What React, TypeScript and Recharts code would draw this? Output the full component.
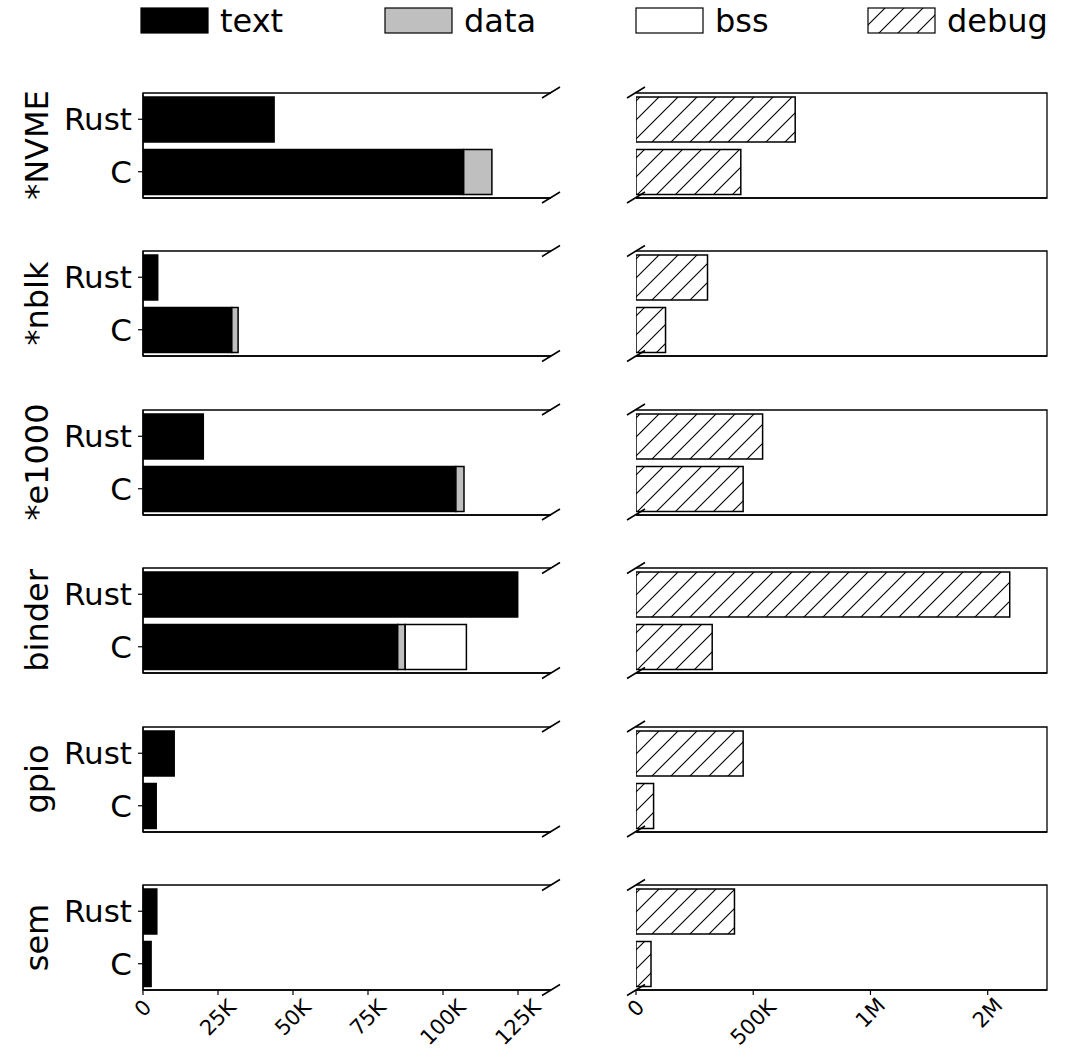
import { Bar, BarChart, ReferenceArea, XAxis, YAxis } from "recharts";

// sizes in bytes
const drivers = ["*NVME", "*nblk", "*e1000", "binder", "gpio", "sem"];
const langs = ["Rust", "C"];
const rustText = [43700, 4900, 20100, 124900, 10400, 4600];
const rustData = [0, 0, 0, 0, 0, 0];
const rustBss = [0, 0, 0, 0, 0, 0];
const cText = [106900, 29600, 104300, 84900, 4400, 2700];
const cData = [9400, 2100, 2700, 2500, 0, 0];
const cBss = [0, 0, 0, 20400, 0, 0];
const rustDebug = [679000, 305000, 540000, 1594000, 457000, 420000];
const cDebug = [447000, 126000, 457000, 325000, 75000, 64000];

const leftTicks = [0, 25000, 50000, 75000, 100000, 125000];
const leftTickLabels = ["0", "25K", "50K", "75K", "100K", "125K"];
const rightTicks = [0, 500000, 1000000, 1500000];
const rightTickLabels = ["0", "500K", "1M", "2M"];
const LEFT_MAX = 136000;
const RIGHT_MAX = 1753000;

const legendItems = [
  { name: "text", fill: "#000000" },
  { name: "data", fill: "#bfbfbf" },
  { name: "bss", fill: "#ffffff" },
  { name: "debug", fill: "url(#hatch-legend)" },
];

const FONT = "DejaVu Sans";
const ROW_TOP0 = 92.5;
const ROW_STEP = 158.5;
const PLOT_H = 105;
const PAD = 10;
const LEFT_X0 = 143;
const LEFT_X1 = 551;
const RIGHT_X0 = 636;
const RIGHT_X1 = 1047;
const FS_X = 21;

const rowTop = (i: number) => ROW_TOP0 + i * ROW_STEP;

function HatchDef({ id }: { id: string }) {
  return (
    <defs>
      <pattern id={id} patternUnits="userSpaceOnUse" width={19} height={19}>
        <rect width={19} height={19} fill="#fff" />
        <path d="M-5,5 L5,-5 M0,19 L19,0 M14,24 L24,14" stroke="#000" strokeWidth={1.1} />
      </pattern>
    </defs>
  );
}

function RotTick(props: any) {
  const { x, y, payload, labels, ticks } = props;
  const label = labels[ticks.indexOf(payload.value)] ?? "";
  const w = label.length * 0.63 * FS_X;
  const half = (w + FS_X * 0.75) / Math.SQRT2 / 2;
  const cy = y + half;
  return (
    <text
      x={x}
      y={cy}
      transform={`rotate(-45 ${x} ${cy})`}
      textAnchor="middle"
      dominantBaseline="central"
      fontSize={FS_X}
      fontFamily={FONT}
      fill="#000"
    >
      {label}
    </text>
  );
}

function LeftPanel({ i }: { i: number }) {
  const last = i === drivers.length - 1;
  const data = [
    { lang: langs[0], text: rustText[i], data: rustData[i], bss: rustBss[i] },
    { lang: langs[1], text: cText[i], data: cData[i], bss: cBss[i] },
  ];
  const axisH = last ? 60 : 10;
  const w = LEFT_X1 - LEFT_X0;
  return (
    <div style={{ position: "absolute", left: 0, top: rowTop(i) - PAD }}>
      <BarChart
        layout="vertical"
        width={LEFT_X1 + 20}
        height={PAD + PLOT_H + axisH}
        data={data}
        margin={{ top: PAD, right: 20, left: 0, bottom: 0 }}
        barCategoryGap={4}
      >
        <XAxis
          type="number"
          domain={[0, LEFT_MAX]}
          ticks={leftTicks}
          height={axisH}
          axisLine={{ stroke: "#000", strokeWidth: 1.3 }}
          tickLine={{ stroke: "#000", strokeWidth: 1.2 }}
          tickSize={5}
          tickMargin={3}
          tick={last ? <RotTick labels={leftTickLabels} ticks={leftTicks} /> : false}
          allowDataOverflow
        />
        <YAxis
          type="category"
          dataKey="lang"
          width={LEFT_X0}
          axisLine={{ stroke: "#000", strokeWidth: 1.3 }}
          tickLine={{ stroke: "#000", strokeWidth: 1.2 }}
          tickSize={5}
          tickMargin={6}
          tick={{ fill: "#000", fontSize: 31, fontFamily: FONT }}
        />
        {/* frame: top, bottom and left edges only (broken on the right) */}
        <ReferenceArea
          x1={0}
          x2={LEFT_MAX}
          fill="none"
          stroke="#000"
          strokeWidth={1.3}
          strokeDasharray={`${w} ${PLOT_H} ${w + PLOT_H}`}
        />
        <Bar dataKey="text" stackId="s" fill="#000" stroke="#000" strokeWidth={1.5} isAnimationActive={false} />
        <Bar dataKey="data" stackId="s" fill="#bfbfbf" stroke="#000" strokeWidth={1.5} isAnimationActive={false} />
        <Bar dataKey="bss" stackId="s" fill="#fff" stroke="#000" strokeWidth={1.5} isAnimationActive={false} />
      </BarChart>
    </div>
  );
}

function RightPanel({ i }: { i: number }) {
  const last = i === drivers.length - 1;
  const data = [
    { lang: langs[0], debug: rustDebug[i] },
    { lang: langs[1], debug: cDebug[i] },
  ];
  const axisH = last ? 60 : 10;
  const hatchId = `hatch-${i}`;
  const w = RIGHT_X1 - RIGHT_X0;
  return (
    <div style={{ position: "absolute", left: RIGHT_X0 - 20, top: rowTop(i) - PAD }}>
      <BarChart
        layout="vertical"
        width={w + 40}
        height={PAD + PLOT_H + axisH}
        data={data}
        margin={{ top: PAD, right: 20, left: 20, bottom: 0 }}
        barCategoryGap={4}
      >
        <HatchDef id={hatchId} />
        <XAxis
          type="number"
          domain={[0, RIGHT_MAX]}
          ticks={rightTicks}
          height={axisH}
          axisLine={{ stroke: "#000", strokeWidth: 1.3 }}
          tickLine={{ stroke: "#000", strokeWidth: 1.2 }}
          tickSize={5}
          tickMargin={3}
          tick={last ? <RotTick labels={rightTickLabels} ticks={rightTicks} /> : false}
          allowDataOverflow
        />
        <YAxis type="category" dataKey="lang" hide width={0} />
        {/* frame: top, right and bottom edges (broken on the left) */}
        <ReferenceArea
          x1={0}
          x2={RIGHT_MAX}
          fill="none"
          stroke="#000"
          strokeWidth={1.3}
          strokeDasharray={`${2 * w + PLOT_H} ${PLOT_H}`}
        />
        <Bar dataKey="debug" fill={`url(#${hatchId})`} stroke="#000" strokeWidth={1.5} isAnimationActive={false} />
      </BarChart>
    </div>
  );
}

function BreakMark({ cx, cy }: { cx: number; cy: number }) {
  return <line x1={cx - 9} y1={cy + 5.5} x2={cx + 9} y2={cy - 5.5} stroke="#000" strokeWidth={1.5} />;
}

function Overlay() {
  const boxX = [141, 385, 636, 868];
  return (
    <svg
      width={1076}
      height={1053}
      style={{ position: "absolute", left: 0, top: 0, pointerEvents: "none" }}
    >
      <HatchDef id="hatch-legend" />
      {legendItems.map((it, k) => (
        <g key={it.name}>
          <rect x={boxX[k]} y={8} width={67} height={25} fill={it.fill} stroke="#000" strokeWidth={1.2} />
          <text
            x={boxX[k] + 79}
            y={21}
            dominantBaseline="central"
            fontSize={32}
            fontFamily={FONT}
            fill="#000"
          >
            {it.name}
          </text>
        </g>
      ))}
      {drivers.map((d, i) => {
        const top = rowTop(i);
        const cy = top + PLOT_H / 2;
        return (
          <g key={d}>
            <text
              x={48}
              y={cy}
              transform={`rotate(-90 48 ${cy})`}
              textAnchor="middle"
              fontSize={32}
              fontFamily={FONT}
              fill="#000"
            >
              {d}
            </text>
            <BreakMark cx={LEFT_X1} cy={top} />
            <BreakMark cx={LEFT_X1} cy={top + PLOT_H} />
            <BreakMark cx={RIGHT_X0} cy={top} />
            <BreakMark cx={RIGHT_X0} cy={top + PLOT_H} />
          </g>
        );
      })}
    </svg>
  );
}

export default function App() {
  return (
    <div style={{ position: "absolute", left: 0, top: 0, width: 1076, height: 1053, background: "#fff" }}>
      {drivers.map((d, i) => (
        <LeftPanel key={`l-${d}`} i={i} />
      ))}
      {drivers.map((d, i) => (
        <RightPanel key={`r-${d}`} i={i} />
      ))}
      <Overlay />
    </div>
  );
}
